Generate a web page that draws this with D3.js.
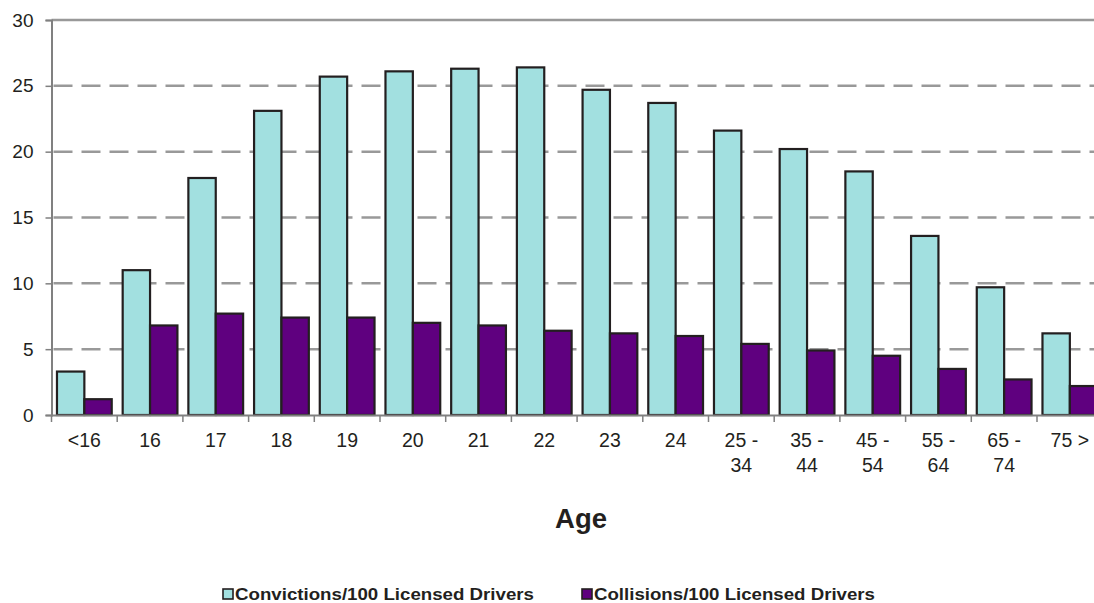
<!DOCTYPE html>
<html>
<head>
<meta charset="utf-8">
<script src="https://cdn.jsdelivr.net/npm/d3@7"></script>
<style>
  html, body { margin: 0; padding: 0; background: #fff; overflow: hidden; }
  svg { display: block; font-family: "Liberation Sans", Arial, sans-serif; }
</style>
</head>
<body>
<svg id="chart" width="1094" height="603"></svg>
<script>
// Age groups and rates per 100 licensed drivers
const ages = ["<16", "16", "17", "18", "19", "20", "21", "22", "23", "24",
              "25 -\n34", "35 -\n44", "45 -\n54", "55 -\n64", "65 -\n74", "75 >"];
const convictions = [3.3, 11.0, 18.0, 23.1, 25.7, 26.1, 26.3, 26.4, 24.7, 23.7,
                     21.6, 20.2, 18.5, 13.6, 9.7, 6.2];
const collisions  = [1.2, 6.8, 7.7, 7.4, 7.4, 7.0, 6.8, 6.4, 6.2, 6.0,
                     5.4, 4.9, 4.5, 3.5, 2.7, 2.2];
const yTicks = [0, 5, 10, 15, 20, 25, 30];
const seriesNames = ["Convictions/100 Licensed Drivers", "Collisions/100 Licensed Drivers"];
const seriesColors = ["#a2e0e0", "#5f007f"];

const svg = d3.select("#chart");
const plotLeft = 51.5, plotTop = 20, plotBottom = 415;
const bandW = 65.7;

const x = d3.scaleBand()
  .domain(ages)
  .range([plotLeft, plotLeft + bandW * ages.length])
  .paddingInner(0)
  .paddingOuter(0);

const y = d3.scaleLinear().domain([0, 30]).range([plotBottom, plotTop]);

// two bars per age group, touching, with a gap on either side
const inner = d3.scaleBand()
  .domain([0, 1])
  .range([0, x.bandwidth()])
  .paddingOuter(0.2)
  .paddingInner(0);

// dashed gridlines
svg.append("g")
  .selectAll("line")
  .data(yTicks.filter(t => t > 0 && t < 30))
  .join("line")
  .attr("x1", plotLeft).attr("x2", 1094)
  .attr("y1", d => y(d)).attr("y2", d => y(d))
  .attr("stroke", "#999999")
  .attr("stroke-width", 2.5)
  .attr("stroke-dasharray", "19,9")
  .attr("stroke-dashoffset", -2);

// solid top line at the maximum
svg.append("line")
  .attr("x1", plotLeft).attr("x2", 1094)
  .attr("y1", y(30)).attr("y2", y(30))
  .attr("stroke", "#999999").attr("stroke-width", 2.5);

// y axis
const yAxis = svg.append("g")
  .attr("transform", `translate(${plotLeft},0)`)
  .call(d3.axisLeft(y).tickValues(yTicks).tickSize(6).tickPadding(12).tickFormat(d3.format("d")));
yAxis.select(".domain").attr("stroke", "#808080").attr("stroke-width", 2);
yAxis.selectAll(".tick line").attr("stroke", "#808080").attr("stroke-width", 1.5);
yAxis.selectAll(".tick text")
  .attr("font-size", 19).attr("fill", "#231f20")
  .attr("font-family", "Liberation Sans, Arial, sans-serif");

// bars
const groups = svg.append("g")
  .selectAll("g")
  .data(ages.map((a, i) => ({ age: a, vals: [convictions[i], collisions[i]] })))
  .join("g")
  .attr("transform", d => `translate(${x(d.age)},0)`);

groups.selectAll("rect")
  .data(d => d.vals.map((v, k) => ({ v, k })))
  .join("rect")
  .attr("x", d => inner(d.k))
  .attr("width", inner.bandwidth())
  .attr("y", d => y(d.v))
  .attr("height", d => plotBottom - y(d.v))
  .attr("fill", d => seriesColors[d.k])
  .attr("stroke", "#231f20")
  .attr("stroke-width", 2.2);

// x axis
const xAxis = svg.append("g")
  .attr("transform", `translate(0,${plotBottom})`)
  .call(d3.axisBottom(x).tickSize(0).tickFormat(""));
xAxis.select(".domain").attr("stroke", "#808080").attr("stroke-width", 2);

// category boundary ticks
svg.append("g")
  .selectAll("line")
  .data(d3.range(ages.length + 1))
  .join("line")
  .attr("x1", i => plotLeft + i * bandW).attr("x2", i => plotLeft + i * bandW)
  .attr("y1", plotBottom).attr("y2", plotBottom + 7)
  .attr("stroke", "#808080").attr("stroke-width", 1.5);

// category labels (two-line where needed)
const lbl = svg.append("g")
  .selectAll("text")
  .data(ages)
  .join("text")
  .attr("x", d => x(d) + x.bandwidth() / 2)
  .attr("y", 447)
  .attr("text-anchor", "middle")
  .attr("font-size", 19.5)
  .attr("fill", "#231f20");
lbl.each(function (d) {
  const lines = d.split("\n");
  d3.select(this).selectAll("tspan")
    .data(lines)
    .join("tspan")
    .attr("x", x(d) + x.bandwidth() / 2)
    .attr("dy", (l, i) => i === 0 ? 0 : 25)
    .text(l => l);
});

// axis title
svg.append("text")
  .attr("x", 581).attr("y", 528)
  .attr("text-anchor", "middle")
  .attr("font-size", 27.5).attr("font-weight", "bold")
  .attr("fill", "#231f20")
  .text("Age");

// legend
const legendX = [223, 582];
const legendW = [299, 281];
const legend = svg.append("g")
  .selectAll("g")
  .data(seriesNames)
  .join("g")
  .attr("transform", (d, i) => `translate(${legendX[i]},589)`);
legend.append("rect")
  .attr("x", 0).attr("y", 0).attr("width", 10).attr("height", 10)
  .attr("fill", (d, i) => seriesColors[i])
  .attr("stroke", "#231f20").attr("stroke-width", 1.6);
legend.append("text")
  .attr("x", 12).attr("y", 11)
  .attr("font-size", 16.8).attr("font-weight", "bold")
  .attr("fill", "#231f20")
  .attr("textLength", (d, i) => legendW[i])
  .attr("lengthAdjust", "spacingAndGlyphs")
  .text(d => d);
</script>
</body>
</html>
